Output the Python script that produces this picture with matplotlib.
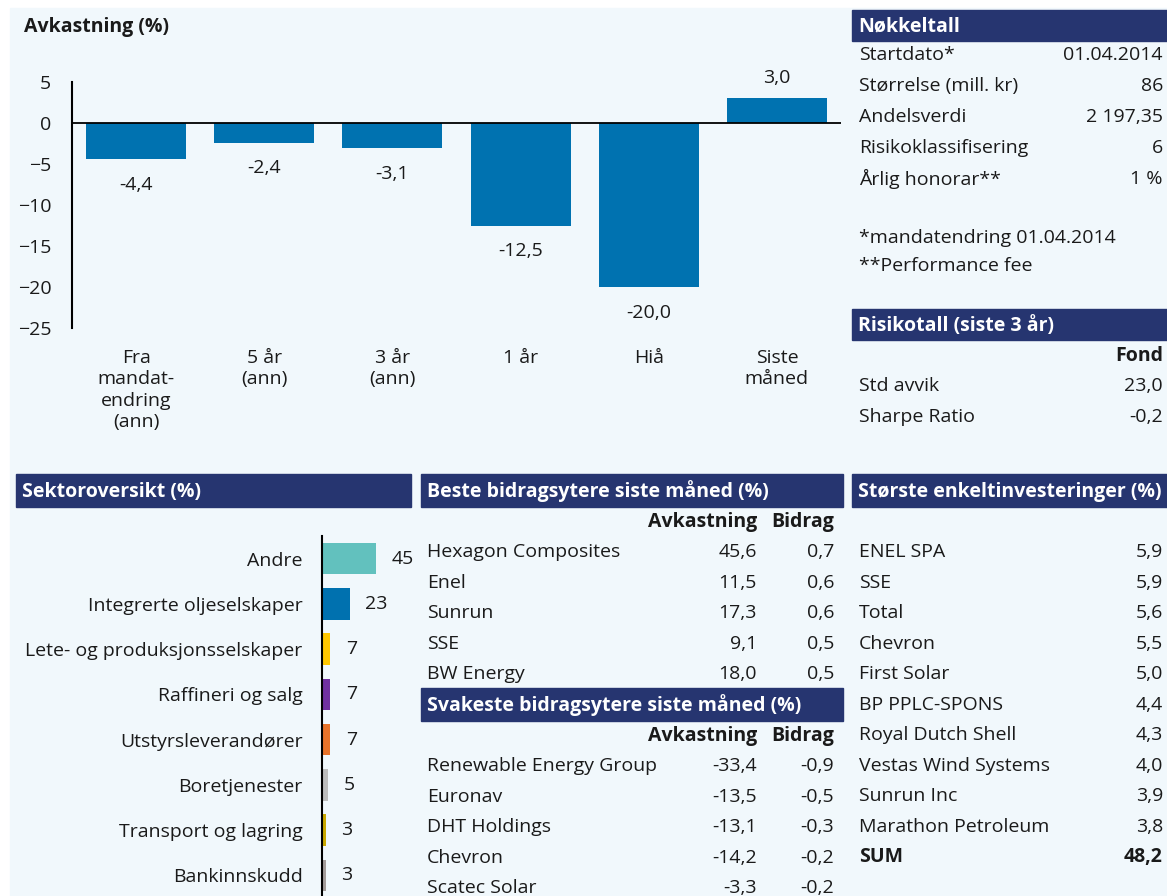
import matplotlib
matplotlib.use("Agg")
import matplotlib.pyplot as plt
from matplotlib.patches import Rectangle
from matplotlib.transforms import Bbox, TransformedBbox

# Avkastning
periods = ["Fra\nmandat-\nendring\n(ann)", "5 år\n(ann)", "3 år\n(ann)", "1 år", "Hiå", "Siste\nmåned"]
returns = [-4.4, -2.4, -3.1, -12.5, -20.0, 3.0]

# Nøkkeltall
key_labels = ["Startdato*", "Størrelse (mill. kr)", "Andelsverdi", "Risikoklassifisering", "Årlig honorar**"]
key_values = ["01.04.2014", "86", "2 197,35", "6", "1 %"]
footnotes = ["*mandatendring 01.04.2014", "**Performance fee"]

# Risikotall
risk_labels = ["Std avvik", "Sharpe Ratio"]
risk_values = ["23,0", "-0,2"]

# Sektoroversikt
sectors = ["Andre", "Integrerte oljeselskaper", "Lete- og produksjonsselskaper", "Raffineri og salg",
           "Utstyrsleverandører", "Boretjenester", "Transport og lagring", "Bankinnskudd"]
sector_pct = [45, 23, 7, 7, 7, 5, 3, 3]
sector_colors = ["#62C1BE", "#0071AF", "#FFC700", "#7030A0", "#E8732A", "#BDBDBD", "#C9A800", "#A39C9A"]

# Beste / svakeste bidragsytere
best_names = ["Hexagon Composites", "Enel", "Sunrun", "SSE", "BW Energy"]
best_ret = ["45,6", "11,5", "17,3", "9,1", "18,0"]
best_contrib = ["0,7", "0,6", "0,6", "0,5", "0,5"]
worst_names = ["Renewable Energy Group", "Euronav", "DHT Holdings", "Chevron", "Scatec Solar"]
worst_ret = ["-33,4", "-13,5", "-13,1", "-14,2", "-3,3"]
worst_contrib = ["-0,9", "-0,5", "-0,3", "-0,2", "-0,2"]

# Største enkeltinvesteringer
top_names = ["ENEL SPA", "SSE", "Total", "Chevron", "First Solar", "BP PPLC-SPONS",
             "Royal Dutch Shell", "Vestas Wind Systems", "Sunrun Inc", "Marathon Petroleum"]
top_pct = ["5,9", "5,9", "5,6", "5,5", "5,0", "4,4", "4,3", "4,0", "3,9", "3,8"]
top_sum = "48,2"

W, H = 1167, 896
NAVY = "#263570"
BLUE = "#0072B0"
BG = "#F1F8FC"
TXT = "#1A1A1A"
FS = 14

plt.rcParams['font.family'] = ['Open Sans', 'DejaVu Sans']

fig = plt.figure(figsize=(W / 100, H / 100), dpi=100, facecolor="white")


def fx(x):
    return x / W


def fy(y):
    return 1 - y / H


def add_axes_px(x0, y0, x1, y1):
    return fig.add_axes([fx(x0), fy(y1), (x1 - x0) / W, (y1 - y0) / H])


def text(x, y, s, **kw):
    kw.setdefault("fontsize", FS)
    kw.setdefault("color", TXT)
    kw.setdefault("va", "center")
    return fig.text(fx(x), fy(y), s, **kw)


def header(x0, x1, y0, y1, s):
    fig.patches.append(Rectangle((fx(x0), fy(y1)), (x1 - x0) / W, (y1 - y0) / H,
                                 transform=fig.transFigure, color=NAVY, zorder=-5))
    text(x0 + 6, (y0 + y1) / 2 + 1, s, color="white", fontweight="bold", fontsize=FS)


# background
fig.patches.append(Rectangle((fx(10), 0), 1 - fx(10), fy(8), transform=fig.transFigure,
                             color=BG, zorder=-10))

# ---- Avkastning bar chart
ax = add_axes_px(72, 82, 841, 328)
ax.set_facecolor("none")
x = range(len(returns))
ax.bar(x, returns, width=0.78, color=BLUE, zorder=2)
ax.axhline(0, color="black", lw=1.3, zorder=3)
ax.set_xlim(-0.5, len(returns) - 0.5)
ax.set_ylim(-25, 5)
ax.set_yticks([5, 0, -5, -10, -15, -20, -25])
ax.set_xticks(list(x))
ax.set_xticklabels(periods, linespacing=1.25, va="top")
ax.tick_params(axis="both", length=0, labelsize=FS, colors=TXT)
ax.tick_params(axis="y", pad=15)
ax.tick_params(axis="x", pad=15)
for s in ["top", "right", "bottom"]:
    ax.spines[s].set_visible(False)
ax.spines["left"].set_linewidth(1.5)
for i, v in enumerate(returns):
    lab = f"{v:.1f}".replace(".", ",")
    if v < 0:
        ax.annotate(lab, (i, v), xytext=(0, -12), textcoords="offset points",
                    ha="center", va="top", fontsize=FS, color=TXT)
    else:
        ax.annotate(lab, (i, v), xytext=(0, 8), textcoords="offset points",
                    ha="center", va="bottom", fontsize=FS, color=TXT)
text(24, 27, "Avkastning (%)", fontweight="bold", fontsize=FS)

# ---- Nøkkeltall
header(852, 1167, 10, 41, "Nøkkeltall")
for i, (k, v) in enumerate(zip(key_labels, key_values)):
    yy = 55 + i * 31
    text(859, yy, k)
    text(1163, yy, v, ha="right")
for i, f in enumerate(footnotes):
    text(859, 238 + i * 28, f)

# ---- Risikotall
header(852, 1167, 309, 340, "Risikotall (siste 3 år)")
text(1163, 356, "Fond", ha="right", fontweight="bold")
for i, (k, v) in enumerate(zip(risk_labels, risk_values)):
    yy = 386 + i * 31
    text(859, yy, k)
    text(1163, yy, v, ha="right")

# ---- Sektoroversikt
header(16, 411, 474, 507, "Sektoroversikt (%)")
ax2 = add_axes_px(322, 536, 442, 898)
ax2.set_facecolor("none")
yy = range(len(sectors))
ax2.barh(yy, sector_pct, height=0.7, color=sector_colors, zorder=2)
ax2.set_xlim(0, 100)
ax2.set_ylim(len(sectors) - 0.5, -0.5)
ax2.set_yticks(list(yy))
ax2.set_yticklabels(sectors)
ax2.set_xticks([])
ax2.tick_params(axis="y", length=0, labelsize=FS, colors=TXT, pad=14)
for s in ["top", "right", "bottom"]:
    ax2.spines[s].set_visible(False)
ax2.spines["left"].set_linewidth(1.5)
ax2.spines["left"].set_zorder(3)
for i, v in enumerate(sector_pct):
    ax2.annotate(str(v), (v, i), xytext=(11, 0), textcoords="offset points",
                 ha="left", va="center", fontsize=FS, color=TXT)

# ---- Beste / svakeste bidragsytere
clip_box = TransformedBbox(Bbox([[fx(421), 0], [fx(658), 1]]), fig.transFigure)


def contrib_table(top, title, names, rets, contribs):
    header(421, 843, top, top + 33, title)
    text(757, top + 48, "Avkastning", ha="right", fontweight="bold")
    text(834, top + 48, "Bidrag", ha="right", fontweight="bold")
    for i, (n, r, c) in enumerate(zip(names, rets, contribs)):
        yy = top + 78 + i * 30.5
        t = text(427, yy, n)
        t.set_clip_box(clip_box)
        t.set_clip_on(True)
        text(757, yy, r, ha="right")
        text(834, yy, c, ha="right")


contrib_table(474, "Beste bidragsytere siste måned (%)", best_names, best_ret, best_contrib)
contrib_table(688, "Svakeste bidragsytere siste måned (%)", worst_names, worst_ret, worst_contrib)

# ---- Største enkeltinvesteringer
header(852, 1167, 474, 507, "Største enkeltinvesteringer (%)")
for i, (n, p) in enumerate(zip(top_names, top_pct)):
    yy = 552 + i * 30.5
    text(859, yy, n)
    text(1163, yy, p, ha="right")
text(859, 552 + 10 * 30.5, "SUM", fontweight="bold")
text(1163, 552 + 10 * 30.5, top_sum, ha="right", fontweight="bold")

fig.savefig("out.png", dpi=100, facecolor=fig.get_facecolor())
